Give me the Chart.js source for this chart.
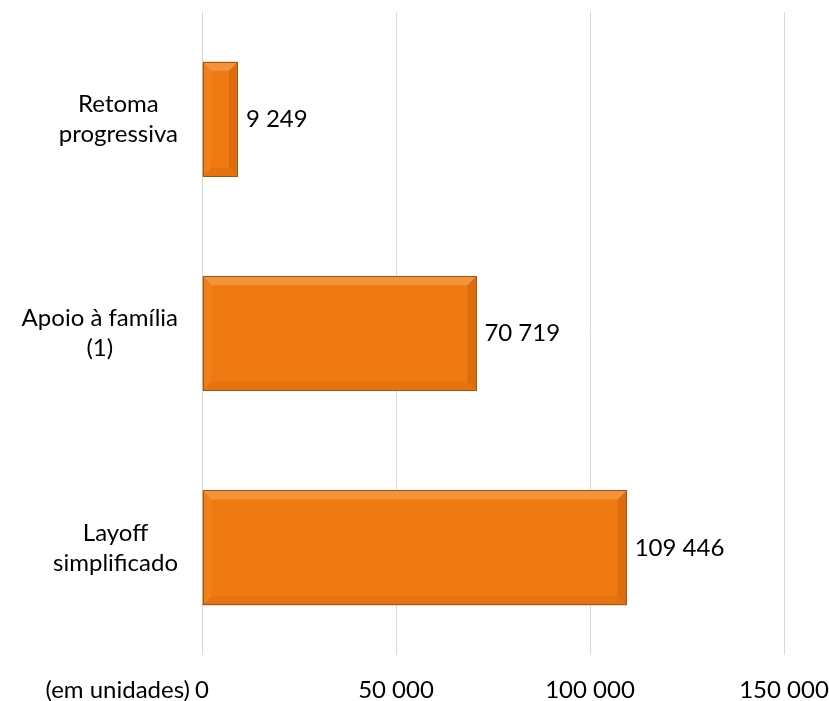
<!DOCTYPE html>
<html>
<head>
<meta charset="utf-8">
<script src="https://cdn.jsdelivr.net/npm/chart.js@4.4.1/dist/chart.umd.min.js"></script>
<style>
  html, body { margin: 0; padding: 0; background: #fff; }
  #wrap { position: relative; width: 829px; height: 701px; }
</style>
</head>
<body>
<div id="wrap"><canvas id="chart" width="829" height="701"></canvas></div>
<script>
// categories and values (units)
const categories = [
  ['Retoma', 'progressiva'],
  ['Apoio à família', '(1)'],
  ['Layoff', 'simplificado']
];
const values = [9249, 70719, 109446];
const axisTicks = [0, 50000, 100000, 150000];
const unitsLabel = '(em unidades)';

const FONT = 'Lato, "Open Sans", sans-serif';
const FONT_SIZE = 24;
const TEXT = '#000000';

// 109446 -> "109 446"
const fmt = (v) => String(Math.round(v)).replace(/\B(?=(\d{3})+(?!\d))/g, ' ');

// category labels, value labels and the bevelled bar look
const decorations = {
  id: 'decorations',
  afterDatasetsDraw(chart) {
    const ctx = chart.ctx;
    const meta = chart.getDatasetMeta(0);
    const yScale = chart.scales.y;
    const xScale = chart.scales.x;

    meta.data.forEach((bar, i) => {
      const p = bar.getProps(['x', 'y', 'base', 'height'], true);
      const left = Math.min(p.base, p.x);
      const right = Math.max(p.base, p.x);
      const top = p.y - p.height / 2;
      const bottom = p.y + p.height / 2;
      const b = Math.min(9, (right - left) / 3);

      ctx.save();
      // top edge (highlight)
      ctx.fillStyle = 'rgba(255, 205, 150, 0.3)';
      ctx.beginPath();
      ctx.moveTo(left, top); ctx.lineTo(right, top);
      ctx.lineTo(right - b, top + b); ctx.lineTo(left + b, top + b);
      ctx.closePath(); ctx.fill();
      // left edge
      ctx.fillStyle = 'rgba(255, 190, 120, 0.1)';
      ctx.beginPath();
      ctx.moveTo(left, top); ctx.lineTo(left + b, top + b);
      ctx.lineTo(left + b, bottom - b); ctx.lineTo(left, bottom);
      ctx.closePath(); ctx.fill();
      // bottom edge (shade)
      ctx.fillStyle = 'rgba(150, 60, 0, 0.1)';
      ctx.beginPath();
      ctx.moveTo(left, bottom); ctx.lineTo(left + b, bottom - b);
      ctx.lineTo(right - b, bottom - b); ctx.lineTo(right, bottom);
      ctx.closePath(); ctx.fill();
      // right edge (shade)
      ctx.fillStyle = 'rgba(140, 55, 0, 0.2)';
      ctx.beginPath();
      ctx.moveTo(right, top); ctx.lineTo(right, bottom);
      ctx.lineTo(right - b, bottom - b); ctx.lineTo(right - b, top + b);
      ctx.closePath(); ctx.fill();
      // outline
      ctx.strokeStyle = '#A0561A';
      ctx.lineWidth = 1;
      ctx.strokeRect(Math.round(left) + 0.5, Math.round(top) + 0.5,
                     Math.round(right - left) - 1, Math.round(bottom - top) - 1);

      // value label
      ctx.fillStyle = TEXT;
      ctx.font = FONT_SIZE + 'px ' + FONT;
      ctx.textAlign = 'left';
      ctx.textBaseline = 'middle';
      ctx.fillText(fmt(values[i]), right + 8, p.y);
      ctx.restore();
    });

    // category labels: each block right-aligned, lines centred inside it
    ctx.save();
    ctx.font = FONT_SIZE + 'px ' + FONT;
    ctx.fillStyle = TEXT;
    ctx.textAlign = 'center';
    ctx.textBaseline = 'middle';
    const lineH = 30;
    const labelRight = 178;
    categories.forEach((lines, i) => {
      const cy = yScale.getPixelForTick(i);
      const w = Math.max(...lines.map(l => ctx.measureText(l).width));
      const cx = labelRight - w / 2;
      const y0 = cy - (lines.length - 1) * lineH / 2;
      lines.forEach((l, k) => ctx.fillText(l, cx, y0 + k * lineH));
    });

    // units note next to the zero tick
    ctx.textAlign = 'right';
    ctx.fillText(unitsLabel, xScale.getPixelForValue(0) - 12, 690);
    ctx.restore();
  }
};

new Chart(document.getElementById('chart'), {
  type: 'bar',
  data: {
    labels: categories.map(c => c.join(' ')),
    datasets: [{
      data: values,
      backgroundColor: '#F07A12',
      borderWidth: 0,
      categoryPercentage: 0.535,
      barPercentage: 1
    }]
  },
  options: {
    indexAxis: 'y',
    responsive: false,
    animation: false,
    devicePixelRatio: 1,
    layout: { padding: { left: 194, right: 45, top: 12, bottom: 0 } },
    plugins: {
      legend: { display: false },
      tooltip: { enabled: false }
    },
    scales: {
      x: {
        min: 0,
        max: 150000,
        afterBuildTicks: (scale) => { scale.ticks = axisTicks.map(v => ({ value: v })); },
        afterFit: (scale) => {
          // fixed axis band; edge labels may overhang into the layout padding
          scale.height = 46;
          scale.paddingLeft = 0;
          scale.paddingRight = 0;
        },
        grid: { color: '#D9D9D9', lineWidth: 1, drawTicks: false },
        border: { display: false },
        ticks: {
          color: TEXT,
          font: { family: FONT, size: FONT_SIZE },
          padding: 21,
          maxRotation: 0,
          callback: (v) => fmt(v)
        }
      },
      y: {
        grid: { display: false },
        border: { display: false },
        ticks: { display: false }
      }
    }
  },
  plugins: [decorations]
});
</script>
</body>
</html>
